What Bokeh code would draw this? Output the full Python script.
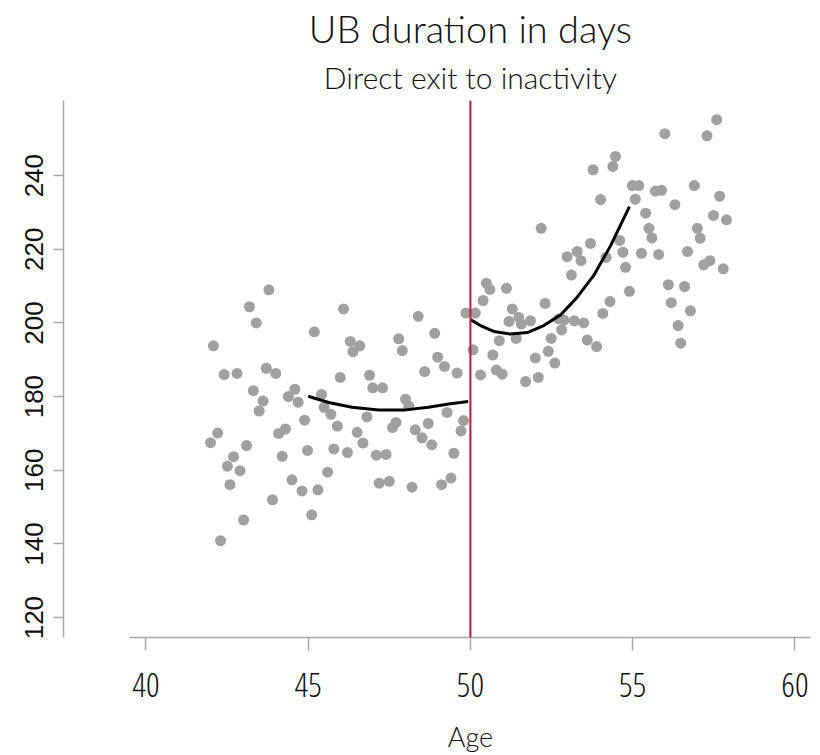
from bokeh.plotting import figure
from bokeh.layouts import column
from bokeh.models import Span, Label, FixedTicker, Range1d
from bokeh.embed import file_html
from bokeh.resources import INLINE

# ---- data ----
cutoff = 50

left_age = [43.79, 43.19, 43.40, 45.19, 42.08, 46.09, 42.41, 42.81, 43.71, 44.00,
            45.99, 43.31, 44.59, 44.39, 44.69, 43.61, 43.49, 45.41, 45.49, 45.70,
            44.89, 45.90, 42.21, 41.99, 44.30, 44.09, 43.10, 42.70, 42.51, 42.90,
            44.20, 44.98, 45.79, 42.59, 45.60, 44.50, 44.81, 45.30, 43.90, 43.01,
            45.11, 42.30, 48.39, 49.86, 48.90, 46.30, 46.59, 46.38, 47.79, 47.90,
            48.99, 49.20, 48.59, 49.59, 46.89, 46.99, 47.29, 48.00, 48.10, 46.81,
            49.28, 49.79, 49.71, 46.51, 46.69, 47.71, 47.60, 48.30, 48.70, 48.51,
            48.81, 46.21, 47.10, 47.40, 49.49, 47.19, 47.50, 48.20, 49.11, 49.40]
left_val = [209.0, 204.4, 200.0, 197.6, 193.8, 203.8, 186.0, 186.3, 187.7, 186.3,
            185.2, 181.6, 182.0, 180.0, 178.5, 178.8, 176.1, 180.6, 177.1, 175.2,
            173.6, 172.0, 170.1, 167.5, 171.2, 170.0, 166.7, 163.7, 161.1, 159.9,
            163.8, 165.4, 165.8, 156.1, 159.5, 157.4, 154.4, 154.7, 152.0, 146.5,
            147.9, 140.9, 201.8, 202.7, 197.2, 195.0, 193.8, 192.2, 195.7, 192.5,
            190.7, 188.2, 186.8, 186.4, 185.8, 182.4, 182.4, 179.3, 177.5, 174.5,
            175.7, 173.5, 170.7, 170.3, 167.4, 173.0, 171.6, 171.0, 172.7, 168.8,
            166.9, 164.8, 164.1, 164.3, 164.6, 156.5, 157.0, 155.4, 156.1, 157.9]

right_age = [50.15, 50.08, 50.39, 50.49, 50.60, 51.11, 51.29, 51.19, 51.49, 51.57,
             51.85, 52.30, 52.72, 52.88, 53.20, 53.49, 52.81, 51.41, 50.89, 52.49,
             53.60, 53.89, 50.69, 52.40, 52.00, 52.60, 50.80, 50.98, 50.31, 51.70,
             52.09, 54.47, 54.39, 53.78, 54.99, 55.19, 55.08, 54.01, 52.18, 53.70,
             54.60, 54.70, 55.27, 52.98, 53.29, 53.41, 54.18, 54.78, 53.11, 54.90,
             54.30, 54.08, 57.59, 55.99, 57.29, 55.70, 55.89, 56.90, 57.68, 56.30,
             55.40, 57.49, 57.89, 55.50, 55.59, 56.99, 57.08, 55.80, 56.69, 57.38,
             57.19, 57.79, 56.10, 56.60, 56.19, 56.78, 56.40, 56.48]
right_val = [202.7, 192.7, 206.1, 210.8, 209.1, 209.4, 203.8, 200.4, 201.5, 199.7,
             200.6, 205.3, 201.1, 200.8, 200.6, 200.0, 198.1, 195.8, 195.2, 195.8,
             195.4, 193.6, 191.3, 192.3, 190.5, 189.1, 187.2, 186.1, 185.9, 184.1,
             185.2, 245.2, 242.5, 241.6, 237.3, 237.3, 233.6, 233.5, 225.7, 221.6,
             222.4, 219.2, 218.9, 218.0, 219.4, 216.9, 217.8, 215.1, 213.0, 208.6,
             205.8, 202.6, 255.2, 251.4, 250.8, 235.8, 236.0, 237.3, 234.4, 232.1,
             229.8, 229.2, 228.0, 225.7, 223.1, 225.7, 223.0, 218.6, 219.4, 216.9,
             215.8, 214.7, 210.4, 209.9, 205.5, 203.3, 199.3, 194.5]

fit_left_age = [45.0, 45.63, 46.35, 47.17, 48.0, 48.71, 49.33, 49.93]
fit_left_val = [180.1, 178.4, 177.1, 176.4, 176.4, 177.1, 178.0, 178.7]
fit_right_age = [50.0, 50.31, 50.72, 51.23, 51.75, 52.26, 52.78, 53.29, 53.80, 54.32, 54.90]
fit_right_val = [200.9, 199.3, 197.7, 197.0, 197.4, 199.3, 202.2, 207.0, 212.9, 221.0, 231.6]

x_ticks = [40, 45, 50, 55, 60]
y_ticks = [120, 140, 160, 180, 200, 220, 240]

title_text = "UB duration in days"
subtitle_text = "Direct exit to inactivity"
x_label = "Age"

X_START, X_END = 37.46, 60.48
LIGHT = "Lato Light"
COND = "Open Sans Condensed Light, Lato Light"
INK = "#111111"


def strip(height):
    """Text strip sharing the chart's horizontal frame, so x=cutoff is the centre."""
    s = figure(width=812, height=height, output_backend="svg", toolbar_location=None,
               x_range=Range1d(X_START, X_END), y_range=Range1d(0, height),
               x_axis_location=None, y_axis_location=None,
               min_border_left=63, min_border_right=2, min_border_top=0,
               min_border_bottom=0, title=None)
    s.outline_line_color = None
    s.grid.visible = False
    return s


# ---- title strip ----
t = strip(100)
t.add_layout(Label(x=cutoff, y=73, text=title_text, text_align="center",
                   text_baseline="alphabetic", text_font=LIGHT,
                   text_font_size="38px", text_color=INK))
t.add_layout(Label(x=cutoff, y=24, text=subtitle_text, text_align="center",
                   text_baseline="alphabetic", text_font=LIGHT,
                   text_font_size="30px", text_color=INK))

# ---- main chart ----
p = figure(frame_width=747, frame_height=537, output_backend="svg", toolbar_location=None,
           x_range=Range1d(X_START, X_END), y_range=Range1d(114.6, 260.4),
           min_border_left=63, min_border_right=2, min_border_top=0,
           min_border_bottom=82, title=None)
p.outline_line_color = None
p.grid.visible = False
p.background_fill_color = "white"
p.border_fill_color = "white"

dot_color = "#a0a0a0"
p.scatter(left_age, left_val, size=11, fill_color=dot_color, line_color=None)
p.scatter(right_age, right_val, size=11, fill_color=dot_color, line_color=None)
p.line(fit_left_age, fit_left_val, line_width=3, line_color="black")
p.line(fit_right_age, fit_right_val, line_width=3, line_color="black")
p.add_layout(Span(location=cutoff, dimension="height", line_color="#c8103c", line_width=2))

axis_gray = "#a8a8a8"
xa = p.xaxis[0]
xa.ticker = FixedTicker(ticks=x_ticks)
xa.bounds = (39.5, X_END)
xa.axis_line_color = axis_gray
xa.axis_line_width = 1.5
xa.major_tick_line_color = axis_gray
xa.major_tick_line_width = 1.5
xa.major_tick_in = 0
xa.major_tick_out = 13
xa.minor_tick_line_color = None
xa.major_label_standoff = 22
xa.major_label_text_font = COND
xa.major_label_text_font_size = "34px"
xa.major_label_text_color = INK

ya = p.yaxis[0]
ya.ticker = FixedTicker(ticks=y_ticks)
ya.axis_line_color = axis_gray
ya.axis_line_width = 1.5
ya.major_tick_line_color = axis_gray
ya.major_tick_line_width = 1.5
ya.major_tick_in = 0
ya.major_tick_out = 10
ya.minor_tick_line_color = None
ya.major_label_orientation = "vertical"
ya.major_label_standoff = 10
ya.major_label_text_font = "Liberation Sans"
ya.major_label_text_font_size = "26px"
ya.major_label_text_color = INK

# ---- x-axis title strip ----
b = strip(34)
b.add_layout(Label(x=cutoff, y=17, text=x_label, text_align="center",
                   text_baseline="alphabetic", text_font=LIGHT,
                   text_font_size="27px", text_color=INK))

layout = column(t, p, b, spacing=0)
open("out.html", "w").write(file_html(layout, INLINE))
